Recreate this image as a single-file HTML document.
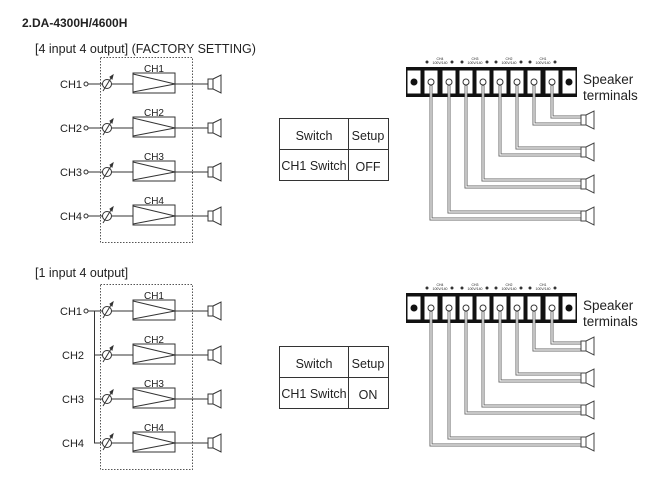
<!DOCTYPE html>
<html><head><meta charset="utf-8"><style>
html,body{margin:0;padding:0;background:#fff}
svg{display:block}
text{font-family:"Liberation Sans",sans-serif;fill:#222}
</style></head><body>
<svg width="657" height="487" viewBox="0 0 657 487" xmlns="http://www.w3.org/2000/svg">
<defs>
<g id="row" stroke="#333" stroke-width="1" fill="none">
  <circle cx="107" cy="0" r="4.5" fill="#fff"/>
  <line x1="103" y1="7" x2="111" y2="-6"/>
  <path d="M110 -7 L113 -9 L112 -5 Z" fill="#333"/>
  <line x1="111.5" y1="0" x2="133" y2="0"/>
  <rect x="133" y="-11" width="42" height="20" fill="#fff"/>
  <polyline points="133,-10 175,0 133,8"/>
  <line x1="175" y1="0" x2="208" y2="0"/>
  <rect x="208" y="-5" width="5" height="10" fill="#fff"/>
  <path d="M213 -5 L221 -9 L221 9 L213 5 Z" fill="#fff"/>
</g>
<g id="spk" stroke="#444" stroke-width="1" fill="#fff">
  <rect x="581" y="-5" width="5" height="10"/>
  <path d="M586 -5 L594 -9 L594 9 L586 5 Z"/>
</g>
<g id="block">
  <rect x="406" y="67" width="171" height="30" fill="#111"/>
  <g fill="#fff" stroke="#111">
    <rect x="407" y="70" width="14" height="24"/><rect x="424" y="70" width="14" height="24"/>
    <rect x="442" y="70" width="14" height="24"/><rect x="459" y="70" width="14" height="24"/>
    <rect x="476" y="70" width="14" height="24"/><rect x="493" y="70" width="14" height="24"/>
    <rect x="510" y="70" width="14" height="24"/><rect x="527" y="70" width="14" height="24"/>
    <rect x="545" y="70" width="14" height="24"/><rect x="562" y="70" width="14" height="24"/>
  </g>
  <circle cx="414" cy="82" r="3.5" fill="#111"/><circle cx="569" cy="82" r="3.5" fill="#111"/>
  <g fill="#fff" stroke="#333" stroke-width="1">
    <circle cx="431" cy="82" r="3"/><circle cx="449" cy="82" r="3"/><circle cx="466" cy="82" r="3"/>
    <circle cx="483" cy="82" r="3"/><circle cx="500" cy="82" r="3"/><circle cx="517" cy="82" r="3"/>
    <circle cx="534" cy="82" r="3"/><circle cx="552" cy="82" r="3"/>
  </g>
  <g fill="#333">
    <circle cx="427" cy="62" r="1.5"/><circle cx="452" cy="62" r="1.5"/>
    <circle cx="462" cy="62" r="1.5"/><circle cx="487" cy="62" r="1.5"/>
    <circle cx="496" cy="62" r="1.5"/><circle cx="521" cy="62" r="1.5"/>
    <circle cx="530" cy="62" r="1.5"/><circle cx="555" cy="62" r="1.5"/>
  </g>
  <g font-size="3.5" text-anchor="middle">
    <text x="440" y="60">CH4</text><text x="440" y="64">100V/140</text>
    <text x="475" y="60">CH3</text><text x="475" y="64">100V/140</text>
    <text x="509" y="60">CH2</text><text x="509" y="64">100V/140</text>
    <text x="543" y="60">CH1</text><text x="543" y="64">100V/140</text>
  </g>
  <g fill="none" stroke="#666" stroke-width="3">
    <polyline points="552,85 552,117 581,117"/><polyline points="534,85 534,124 581,124"/>
    <polyline points="517,85 517,148 581,148"/><polyline points="500,85 500,155 581,155"/>
    <polyline points="483,85 483,180 581,180"/><polyline points="466,85 466,187 581,187"/>
    <polyline points="449,85 449,212 581,212"/><polyline points="431,85 431,219 581,219"/>
  </g>
  <g fill="none" stroke="#fff" stroke-width="1.2">
    <polyline points="552,86 552,117 581,117"/><polyline points="534,86 534,124 581,124"/>
    <polyline points="517,86 517,148 581,148"/><polyline points="500,86 500,155 581,155"/>
    <polyline points="483,86 483,180 581,180"/><polyline points="466,86 466,187 581,187"/>
    <polyline points="449,86 449,212 581,212"/><polyline points="431,86 431,219 581,219"/>
  </g>
  <use href="#spk" y="120"/><use href="#spk" y="152"/><use href="#spk" y="184"/><use href="#spk" y="216"/>
  <text x="583" y="84" font-size="13.5">Speaker</text>
  <text x="583" y="100" font-size="13.5">terminals</text>
</g>
</defs>

<text x="22" y="27" font-size="12" font-weight="bold">2.DA-4300H/4600H</text>

<!-- Section 1 -->
<text x="35" y="53" font-size="12.5">[4 input 4 output]  (FACTORY SETTING)</text>
<rect x="100.5" y="57.5" width="92" height="185" fill="none" stroke="#555" stroke-dasharray="1.5,1.5"/>
<g font-size="11">
  <text x="60" y="88">CH1</text><text x="60" y="132">CH2</text><text x="60" y="176">CH3</text><text x="60" y="220">CH4</text>
</g>
<g font-size="10" text-anchor="middle">
  <text x="154" y="72">CH1</text><text x="154" y="116">CH2</text><text x="154" y="160">CH3</text><text x="154" y="204">CH4</text>
</g>
<g stroke="#333" fill="#fff">
  <line x1="88" y1="84" x2="103" y2="84"/><circle cx="86" cy="84" r="2"/>
  <line x1="88" y1="128" x2="103" y2="128"/><circle cx="86" cy="128" r="2"/>
  <line x1="88" y1="172" x2="103" y2="172"/><circle cx="86" cy="172" r="2"/>
  <line x1="88" y1="216" x2="103" y2="216"/><circle cx="86" cy="216" r="2"/>
</g>
<use href="#row" y="84"/><use href="#row" y="128"/><use href="#row" y="172"/><use href="#row" y="216"/>

<g stroke="#333" fill="none">
  <rect x="279.5" y="118.5" width="109" height="62"/>
  <line x1="279" y1="149.5" x2="388" y2="149.5"/>
  <line x1="348.5" y1="118" x2="348.5" y2="180"/>
</g>
<g font-size="12.5" text-anchor="middle">
  <text x="314" y="140">Switch</text><text x="368" y="140">Setup</text>
  <text x="314" y="170">CH1 Switch</text><text x="368" y="171">OFF</text>
</g>
<use href="#block"/>

<!-- Section 2 -->
<text x="35" y="277" font-size="12.5">[1 input 4 output]</text>
<rect x="100.5" y="284.5" width="92" height="185" fill="none" stroke="#555" stroke-dasharray="1.5,1.5"/>
<g font-size="11">
  <text x="60" y="315">CH1</text><text x="62" y="359">CH2</text><text x="62" y="403">CH3</text><text x="62" y="447">CH4</text>
</g>
<g font-size="10" text-anchor="middle">
  <text x="154" y="299">CH1</text><text x="154" y="343">CH2</text><text x="154" y="387">CH3</text><text x="154" y="431">CH4</text>
</g>
<g stroke="#333" fill="#fff">
  <line x1="94.5" y1="311" x2="94.5" y2="443"/>
  <line x1="86" y1="311" x2="103" y2="311"/><circle cx="86" cy="311" r="2"/>
  <line x1="94" y1="355" x2="103" y2="355"/>
  <line x1="94" y1="399" x2="103" y2="399"/>
  <line x1="94" y1="443" x2="103" y2="443"/>
</g>
<use href="#row" y="311"/><use href="#row" y="355"/><use href="#row" y="399"/><use href="#row" y="443"/>

<g stroke="#333" fill="none">
  <rect x="279.5" y="346.5" width="109" height="62"/>
  <line x1="279" y1="377.5" x2="388" y2="377.5"/>
  <line x1="348.5" y1="346" x2="348.5" y2="408"/>
</g>
<g font-size="12.5" text-anchor="middle">
  <text x="314" y="368">Switch</text><text x="368" y="368">Setup</text>
  <text x="314" y="398">CH1 Switch</text><text x="368" y="399">ON</text>
</g>
<use href="#block" y="226"/>
</svg>
</body></html>
